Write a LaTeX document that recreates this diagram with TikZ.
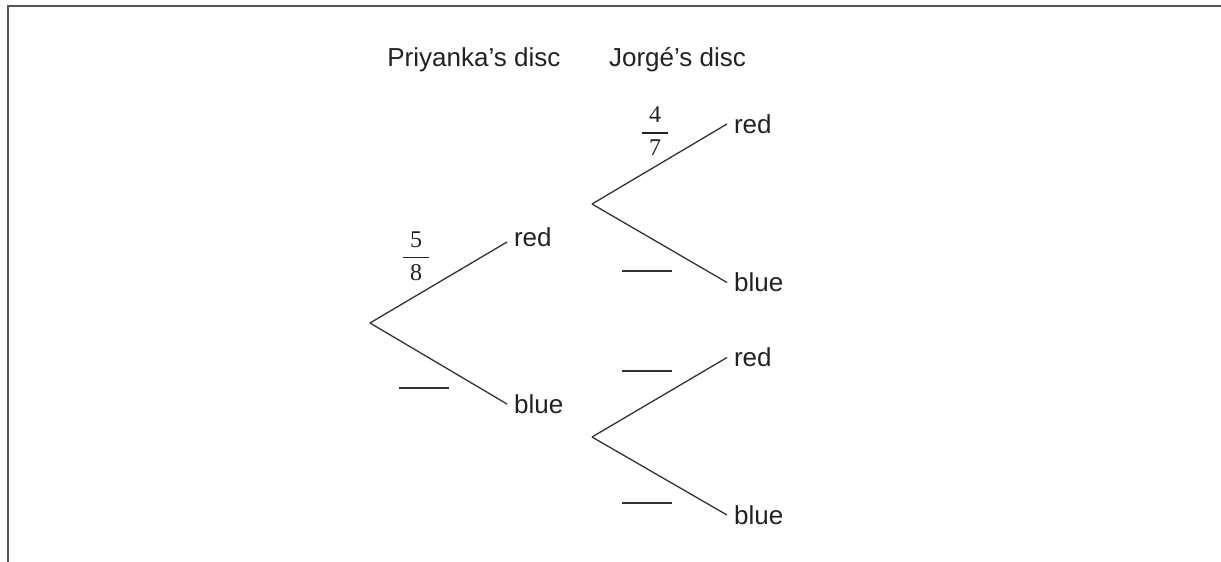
\documentclass[tikz,border=0pt]{standalone}
\usepackage{amsmath}
\usepackage{fontspec}
\setmainfont{Liberation Sans}
\newfontfamily\fracfont{Liberation Serif}
\usepackage{tikz}
\usetikzlibrary{positioning}
\definecolor{ink}{RGB}{34, 34, 34}
\definecolor{linegray}{RGB}{50, 50, 50}
\definecolor{framegray}{RGB}{85, 85, 85}
\newcommand{\probfrac}[2]{$\genfrac{}{}{0.75pt}{0}{\text{\fracfont\hspace{3.4pt}#1\hspace{3.4pt}}}{\text{\fracfont\hspace{3.4pt}#2\hspace{3.4pt}}}$}
\newcommand{\answerline}{\rule{25pt}{0.75pt}}
\tikzstyle{outcome} = [anchor=west, text=ink, font=\fontsize{13pt}{15pt}\selectfont]
\tikzstyle{head} = [anchor=west, inner sep=0pt, text=ink, font=\fontsize{13pt}{15pt}\selectfont]
\tikzstyle{prob} = [inner sep=0pt, text=ink, font=\fontsize{12pt}{14pt}\selectfont]
\tikzstyle{blank} = [inner sep=0pt, text=linegray]
\tikzstyle{branch} = [draw=linegray, line width=0.65pt]
\tikzstyle{frame} = [draw=framegray, line width=1pt]

\begin{document}
\begin{tikzpicture}[x=0.5pt, y=-0.5pt]

\useasboundingbox (0,0) rectangle (1221,562);

% frame =============================
\path[frame] (8,562) -- (8,6) -- (1221,6);

% headings
\node[head] (hp) at (387,60) {Priyanka's disc};
\node[head, right=24pt of hp] (hj) {Jorgé's disc};

% first stage
\coordinate (p) at (370,323);
\node[outcome] (pred) at (507,237) {red};
\node[outcome] (pblue) at (507,404) {blue};

% second stage
\coordinate (jr) at (592,204);
\node[outcome] (jrred) at (727,124) {red};
\node[outcome] (jrblue) at (727,282.5) {blue};

\coordinate (jb) at (592,437);
\node[outcome] (jbred) at (727,357.5) {red};
\node[outcome] (jbblue) at (727,515) {blue};

% probabilities
\node[prob] (f1) at (416,256) {\probfrac{5}{8}};
\node[prob] (f2) at (655,131) {\probfrac{4}{7}};

\node[blank] (b1) at (424,388) {\answerline};
\node[blank] (b2) at (647,271) {\answerline};
\node[blank] (b3) at (647,371) {\answerline};
\node[blank] (b4) at (647,503) {\answerline};

% branches
\path[branch] (p) -- ([yshift=-2.5pt]pred.west);
\path[branch] (p) -- (pblue.west);

\path[branch] (jr) -- (jrred.west);
\path[branch] (jr) -- (jrblue.west);

\path[branch] (jb) -- (jbred.west);
\path[branch] (jb) -- (jbblue.west);

\end{tikzpicture}
\end{document}
